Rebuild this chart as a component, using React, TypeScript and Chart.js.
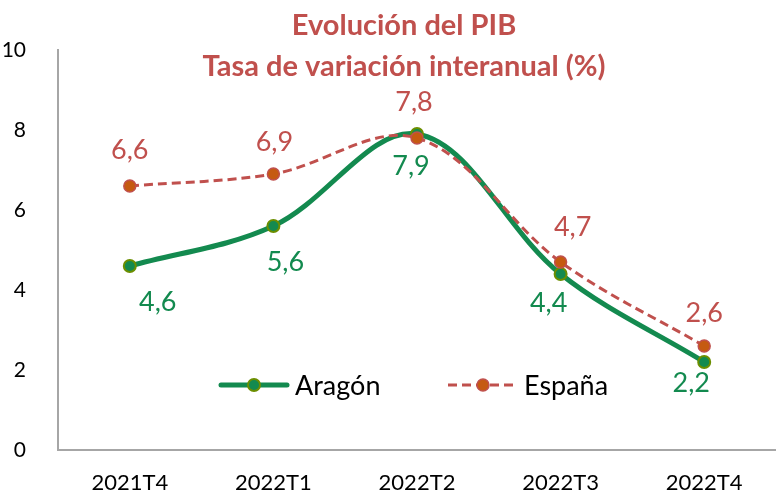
import React, { useEffect, useRef } from "react";
import { Chart, registerables } from "chart.js";

Chart.register(...registerables);

const categories = ["2021T4", "2022T1", "2022T2", "2022T3", "2022T4"];
const aragon = [4.6, 5.6, 7.9, 4.4, 2.2];
const espana = [6.6, 6.9, 7.8, 4.7, 2.6];
const yTicks = [0, 2, 4, 6, 8, 10];
const titleLines = ["Evolución del PIB", "Tasa de variación interanual (%)"];
const seriesNames = ["Aragón", "España"];

const FONT = "Lato, 'Open Sans', sans-serif";
const RED = "#C0504D";
const GREEN = "#138A4F";
const ORANGE = "#C55A11";
const OLIVE = "#6B8E00";

// label offsets (dx, dy) relative to point, px
const aragonLabelOffsets = [[28, 36], [12, 36], [-6, 32], [-12, 29], [-13, 21]];
const espanaLabelOffsets = [[0, -36], [1, -32], [-3, -36], [12, -35], [0, -33]];

const fmt = (v: number) => v.toFixed(1).replace(".", ",");

const overlayPlugin = {
  id: "overlay",
  afterDraw(chart: any) {
    const { ctx } = chart;
    ctx.save();
    // title
    ctx.fillStyle = RED;
    ctx.font = `bold 29px ${FONT}`;
    ctx.textAlign = "center";
    ctx.textBaseline = "middle";
    ctx.fillText(titleLines[0], 404, 26);
    ctx.fillText(titleLines[1], 404, 67);

    // data labels
    ctx.font = `27px ${FONT}`;
    const drawLabels = (dsIndex: number, offsets: number[][], color: string) => {
      const meta = chart.getDatasetMeta(dsIndex);
      const data = chart.data.datasets[dsIndex].data as number[];
      ctx.fillStyle = color;
      meta.data.forEach((pt: any, i: number) => {
        ctx.fillText(fmt(data[i]), pt.x + offsets[i][0], pt.y + offsets[i][1]);
      });
    };
    drawLabels(1, espanaLabelOffsets, RED);
    drawLabels(0, aragonLabelOffsets, GREEN);

    // legend
    const ly = 385;
    ctx.lineCap = "round";
    ctx.strokeStyle = GREEN;
    ctx.lineWidth = 5;
    ctx.beginPath();
    ctx.moveTo(221, ly);
    ctx.lineTo(287, ly);
    ctx.stroke();
    ctx.beginPath();
    ctx.arc(254, ly, 6, 0, Math.PI * 2);
    ctx.fillStyle = GREEN;
    ctx.fill();
    ctx.lineWidth = 2;
    ctx.strokeStyle = OLIVE;
    ctx.stroke();

    ctx.lineCap = "butt";
    ctx.setLineDash([9, 5]);
    ctx.strokeStyle = RED;
    ctx.lineWidth = 3;
    ctx.beginPath();
    ctx.moveTo(448, ly);
    ctx.lineTo(516, ly);
    ctx.stroke();
    ctx.setLineDash([]);
    ctx.beginPath();
    ctx.arc(483, ly, 6, 0, Math.PI * 2);
    ctx.fillStyle = ORANGE;
    ctx.fill();
    ctx.lineWidth = 1.5;
    ctx.strokeStyle = RED;
    ctx.stroke();

    ctx.fillStyle = "#000";
    ctx.font = `27px ${FONT}`;
    ctx.textAlign = "left";
    ctx.fillText(seriesNames[0], 295, ly + 1);
    ctx.fillText(seriesNames[1], 524, ly + 1);
    ctx.restore();
  },
};

export default function App() {
  const ref = useRef<HTMLCanvasElement | null>(null);
  useEffect(() => {
    document.body.style.margin = "0";
    const canvas = ref.current!;
    const chart = new Chart(canvas, {
      type: "line",
      data: {
        labels: categories,
        datasets: [
          {
            label: seriesNames[0],
            data: aragon,
            borderColor: GREEN,
            borderWidth: 5,
            pointRadius: 6,
            pointBackgroundColor: GREEN,
            pointBorderColor: OLIVE,
            pointBorderWidth: 2,
            tension: 0.35,
            order: 2,
          },
          {
            label: seriesNames[1],
            data: espana,
            borderColor: RED,
            borderWidth: 3,
            borderDash: [9, 5],
            pointRadius: 6,
            pointBackgroundColor: ORANGE,
            pointBorderColor: RED,
            pointBorderWidth: 1.5,
            tension: 0.35,
            order: 1,
          },
        ],
      },
      options: {
        responsive: false,
        animation: false,
        layout: { padding: { top: 50, right: 3, left: 0, bottom: 0 } },
        plugins: { legend: { display: false }, tooltip: { enabled: false }, title: { display: false } },
        scales: {
          x: {
            offset: true,
            grid: { display: false },
            border: { display: true, color: "#A6A6A6", width: 2 },
            ticks: { color: "#000", font: { family: FONT, size: 22 }, padding: 12, maxRotation: 0 },
            afterFit: (s: any) => { s.height = 44; },
          },
          y: {
            min: 0,
            max: 10,
            afterBuildTicks: (s: any) => { s.ticks = yTicks.map((v) => ({ value: v })); },
            grid: { display: false },
            border: { display: true, color: "#A6A6A6", width: 2 },
            ticks: { color: "#000", font: { family: FONT, size: 21 }, padding: 24 },
            afterFit: (s: any) => { s.width = 58; },
          },
        },
      },
      plugins: [overlayPlugin],
    });
    return () => chart.destroy();
  }, []);
  return (
    <div style={{ position: "fixed", left: 0, top: 0, width: 776, height: 494, overflow: "hidden", background: "#fff" }}>
      <canvas ref={ref} width={784} height={494} style={{ display: "block" }} />
    </div>
  );
}
